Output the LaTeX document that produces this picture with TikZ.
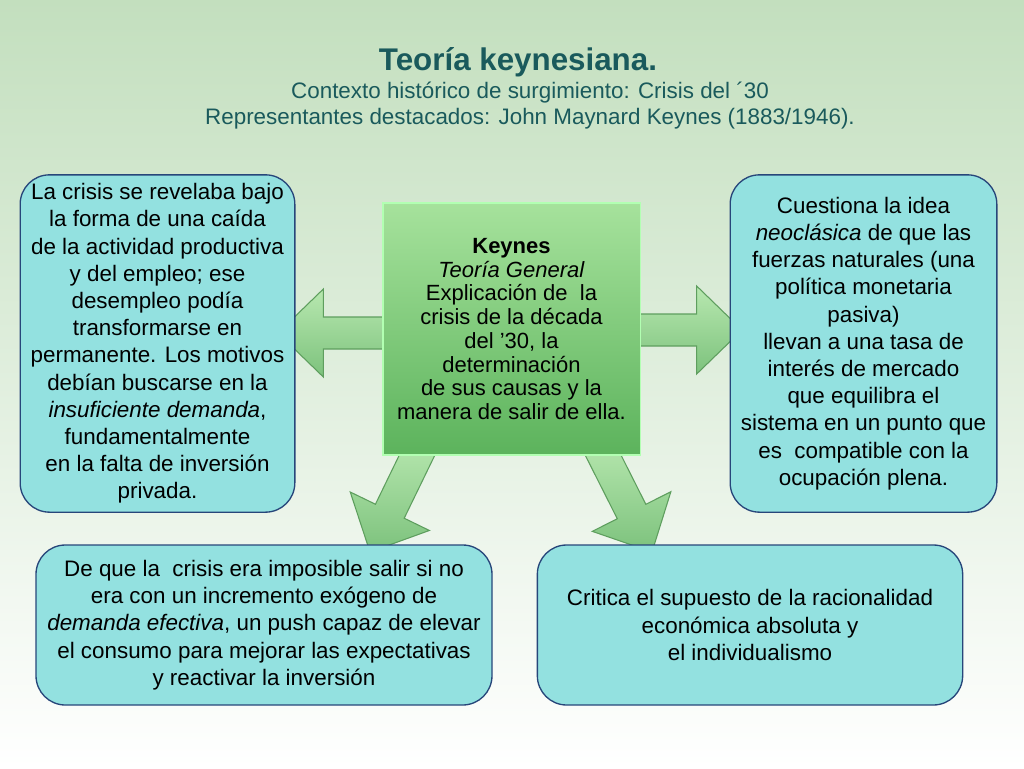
\documentclass[tikz,border=0pt]{standalone}
\usepackage{fontspec}
\setmainfont{Liberation Sans}
\usetikzlibrary{calc}
\definecolor{titlecol}{HTML}{1A5A5C}
\definecolor{boxfill}{HTML}{93E1E0}
\definecolor{boxline}{HTML}{27467A}
\definecolor{bgtop}{HTML}{C3DFBE}
\definecolor{greentop}{HTML}{A6E29C}
\definecolor{greenbot}{HTML}{5CB35C}
\definecolor{arrowline}{HTML}{5E9E5E}
\tikzset{
  textbox/.style={draw=boxline, line width=1pt, fill=boxfill, rounded corners=22pt,
    align=center, inner sep=0pt, font=\fontsize{16.8}{20.4}\selectfont},
  centerbox/.style={draw=green!30!white, line width=1pt, top color=greentop, bottom color=greenbot,
    align=center, inner sep=0pt, font=\fontsize{16.5}{17.8}\selectfont},
  arrowbody/.style={draw=arrowline, line width=0.8pt, top color=greentop!80!white, bottom color=greenbot!80!white}
}
% block arrow from tail #1 to tip #2
\newcommand\blockarrow[2]{%
  \coordinate (ha) at ($(#2)!34pt!(#1)$);
  \draw[arrowbody] ($(#1)!12pt!90:(#2)$) -- ($(ha)!12pt!-90:(#1)$) -- ($(ha)!33pt!-90:(#1)$)
    -- (#2) -- ($(ha)!33pt!90:(#1)$) -- ($(ha)!12pt!90:(#1)$) -- ($(#1)!12pt!-90:(#2)$) -- cycle;
}
\begin{document}
\begin{tikzpicture}[x=0.75pt,y=-0.75pt]
% background
\shade[top color=bgtop, bottom color=white] (0,0) rectangle (1024,768);
\useasboundingbox (0,0) rectangle (1024,768);

% title
\node[text=titlecol, font=\fontsize{23.5}{26}\selectfont\bfseries] (title) at (518,62) {Teoría keynesiana.};
\node[text=titlecol, font=\fontsize{16.8}{19.5}\selectfont, align=center] (sub) at (530,106)
  {Contexto histórico de surgimiento: Crisis del ´30\\Representantes destacados: John Maynard Keynes (1883/1946).};

% arrows
\coordinate (lt) at (390,333); \coordinate (lp) at (278,333);
\coordinate (rt) at (635,330); \coordinate (rp) at (742,330);
\coordinate (dlt) at (422,445); \coordinate (dlp) at (370,552);
\coordinate (drt) at (598,445); \coordinate (drp) at (652,552);
\blockarrow{lt}{lp}
\blockarrow{rt}{rp}
\blockarrow{dlt}{dlp}
\blockarrow{drt}{drp}

% boxes
\node[textbox, minimum width=206pt, minimum height=253pt] (left) at (157.5,343.5)
  {La crisis se revelaba bajo\\la forma de una caída\\de la actividad productiva\\y del empleo; ese\\desempleo podía\\transformarse en\\permanente. Los motivos\\debían buscarse en la\\\textit{insuficiente demanda},\\fundamentalmente\\en la falta de inversión\\privada.};
\node[textbox, minimum width=200pt, minimum height=253pt] (right) at (863.5,343.5)
  {Cuestiona la idea\\\textit{neoclásica} de que las\\fuerzas naturales (una\\política monetaria\\pasiva)\\llevan a una tasa de\\interés de mercado\\que equilibra el\\sistema en un punto que\\es \ compatible con la\\ocupación plena.};
\node[textbox, minimum width=342pt, minimum height=120pt] (botleft) at (264,625)
  {De que la \ crisis era imposible salir si no\\era con un incremento exógeno de\\\textit{demanda efectiva}, un push capaz de elevar\\el consumo para mejorar las expectativas\\y reactivar la inversión};
\node[textbox, minimum width=319pt, minimum height=120pt] (botright) at (750,625)
  {Critica el supuesto de la racionalidad\\económica absoluta y\\el individualismo};
\node[centerbox, minimum width=193pt, minimum height=189pt] (keynes) at (511.5,329)
  {\textbf{Keynes}\\\textit{Teoría General}\\Explicación de \ la\\crisis de la década\\del ’30, la\\determinación\\de sus causas y la\\manera de salir de ella.};
\end{tikzpicture}
\end{document}
